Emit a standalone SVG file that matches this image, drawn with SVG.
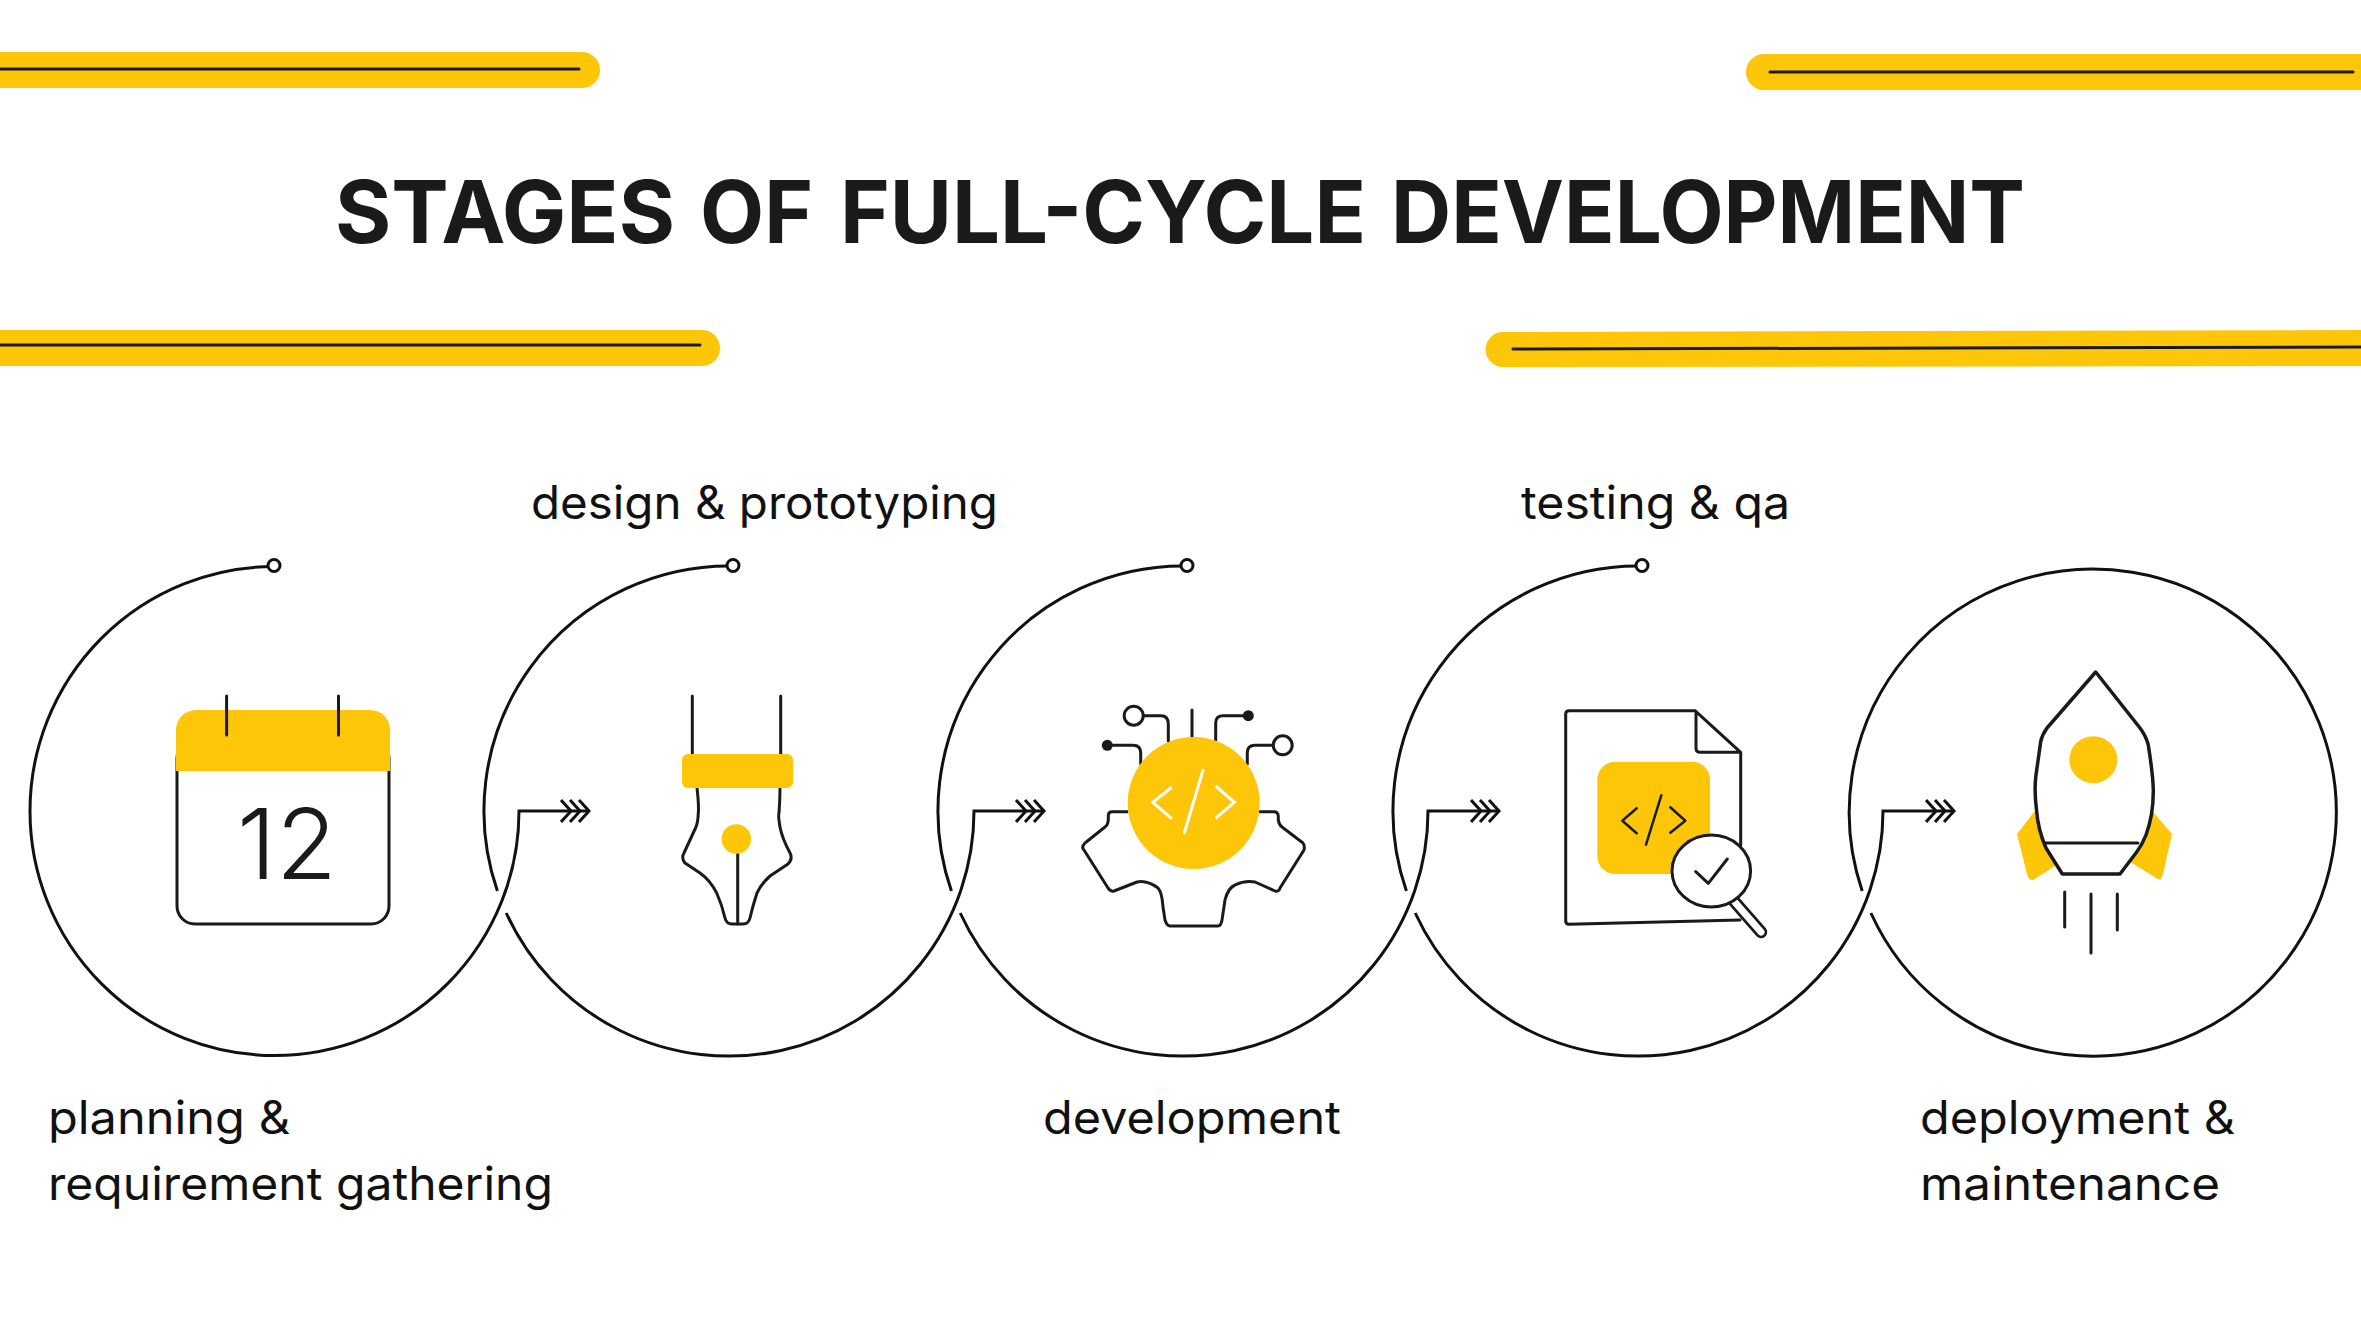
<svg xmlns="http://www.w3.org/2000/svg" width="2361" height="1317" viewBox="0 0 2361 1317">
<style>
text{font-family:"Inter","Liberation Sans",sans-serif;fill:#111}
.title{font-size:87px;font-weight:700;fill:#1a1a1a}
.lab{font-size:46px;font-weight:400}
.y{fill:#fec608;stroke:none}
.k{fill:none;stroke:#1a1a1a;stroke-width:3;stroke-linecap:round;stroke-linejoin:round}
.kb{fill:none;stroke:#1a1a1a;stroke-width:3;stroke-linejoin:round}
.arc{fill:none;stroke:#111;stroke-width:3}
.bar{fill:none;stroke:#1a1a1a;stroke-width:3;stroke-linecap:round}
.dot{fill:#fff;stroke:#111;stroke-width:3}
</style>
<defs>
<marker id="chev" markerUnits="userSpaceOnUse" markerWidth="32" markerHeight="28" refX="29" refY="14" orient="auto" viewBox="0 0 32 28">
<path d="M1 3L11 14L1 25M10 3L20 14L10 25M19 3L29 14L19 25" fill="none" stroke="#111" stroke-width="3"/>
</marker>
</defs>
<rect width="2361" height="1317" fill="#fff"/>
<g id="decor">
<rect class="y" x="-30" y="52" width="630" height="36" rx="18"/>
<path class="bar" d="M-5 69H579"/>
<rect class="y" x="1746" y="54" width="640" height="36" rx="18"/>
<path class="bar" d="M1770 72H2353"/>
<rect class="y" x="-30" y="330" width="750" height="36" rx="18"/>
<path class="bar" d="M-5 345H700"/>
<path class="y" d="M1503 332L2361 330V366L1503 367A17.5 17.5 0 0 1 1503 332Z"/>
<path class="bar" d="M1513 349L2366 347"/>
</g>
<text id="title" class="title" y="243"><tspan x="335" textLength="340" lengthAdjust="spacingAndGlyphs">STAGES</tspan> <tspan x="700" textLength="113" lengthAdjust="spacingAndGlyphs">OF</tspan> <tspan x="840" textLength="526" lengthAdjust="spacingAndGlyphs">FULL-CYCLE</tspan> <tspan x="1391" textLength="634" lengthAdjust="spacingAndGlyphs">DEVELOPMENT</tspan></text>
<g id="connectors">
<path class="arc" marker-end="url(#chev)" d="M274.5 566.5A244.5 244.5 0 1 0 519 811H589"/>
<path class="arc" d="M733 566A245 245 0 0 0 497.4 891"/>
<path class="arc" marker-end="url(#chev)" d="M506.2 913A245 245 0 0 0 974 811H1044"/>
<path class="arc" d="M1187 566A245 245 0 0 0 951.4 891"/>
<path class="arc" marker-end="url(#chev)" d="M960.2 913A245 245 0 0 0 1428 811H1499"/>
<path class="arc" d="M1642 566A245 245 0 0 0 1406.4 891"/>
<path class="arc" marker-end="url(#chev)" d="M1415.2 913A245 245 0 0 0 1883 811H1954"/>
<path class="arc" d="M1870.9 913A243.5 243.5 0 1 0 1862.2 891"/>
<circle class="dot" cx="274" cy="565.5" r="6"/>
<circle class="dot" cx="733" cy="565.5" r="6"/>
<circle class="dot" cx="1187" cy="565.5" r="6"/>
<circle class="dot" cx="1642" cy="565.5" r="6"/>
</g>
<g id="node-planning">
<rect class="kb" x="177" y="740" width="212" height="184" rx="18"/>
<path class="y" d="M176 771V730A20 20 0 0 1 196 710H370A20 20 0 0 1 390 730V771Z"/>
<path class="k" d="M226.6 696V735M338.5 696V735"/>
<text x="237" y="879" font-size="98" style="font-weight:300;fill:#1a1a1a" textLength="100" lengthAdjust="spacingAndGlyphs">12</text>
<text class="lab" x="48" y="1134" textLength="242" lengthAdjust="spacingAndGlyphs">planning &amp;</text>
<text class="lab" x="48" y="1200" textLength="505" lengthAdjust="spacingAndGlyphs">requirement gathering</text>
</g>
<g id="node-design">
<path class="k" d="M692.3 696V754M780.7 696V754"/>
<path class="kb" d="M697 788Q699 805 698.3 813Q698 822 696 827L684 853Q681 858 685 863L700 873Q710 880 716.7 893Q722 905 725 918Q726.5 924 732 924H743Q748.5 924 750 918Q753 905 757 893Q762 883 770 876L788 864Q793 859 790 853Q782 838 780 827Q778 815 779 813Q780 800 780 788"/>
<path class="k" d="M737.7 853V924"/>
<rect class="y" x="682" y="754" width="111" height="34" rx="6"/>
<circle class="y" cx="736.3" cy="839" r="14.7"/>
<text class="lab" x="531" y="519" textLength="467" lengthAdjust="spacingAndGlyphs">design &amp; prototyping</text>
</g>
<g id="node-development">
<path class="kb" d="M1128.3 811.7H1112Q1108.3 811.7 1108.3 816V820Q1108 825 1105 827L1085 843Q1081 847 1084 850L1108 888Q1111 892 1114 891L1137 882Q1147 880 1158 888Q1162 892 1163 907L1165 920Q1167 926 1170 926H1218Q1221 926 1222 920L1225 900Q1228 888 1235 885Q1245 880 1255 882L1275 891Q1279 892 1280 888L1304 850Q1305 846 1303 843L1282 827Q1279 825 1278.3 820V816Q1278 811.7 1274 811.7H1259"/>
<path class="k" d="M1192 710V737M1144 715.7H1161Q1168.3 715.7 1168.3 724V741M1107.3 745.3H1133Q1140.7 745.3 1140.7 753V764M1248.3 715.7H1223Q1215.7 715.7 1215.7 723V740M1272 745.3H1255Q1247.3 745.3 1247.3 753V764"/>
<circle class="k" cx="1133.7" cy="715.7" r="9.5"/>
<circle class="k" cx="1282.7" cy="745.3" r="9.5"/>
<circle cx="1107.3" cy="745.3" r="5.5" fill="#1a1a1a"/>
<circle cx="1248.3" cy="715.7" r="5.5" fill="#1a1a1a"/>
<circle class="y" cx="1193.7" cy="803" r="66"/>
<path fill="none" stroke="#fff" stroke-width="3" d="M1171.7 787.3L1152.7 802.3L1171.7 818.7M1203.3 769.3L1184 834M1215.7 786L1234.3 802.3L1215.7 818"/>
<text class="lab" x="1043" y="1134" textLength="298" lengthAdjust="spacingAndGlyphs">development</text>
</g>
<g id="node-testing">
<path class="k" d="M1569 710.7H1695L1740.7 752.3V845M1740 920L1569 924.3Q1565.7 924.3 1565.7 921V714Q1565.7 710.7 1569 710.7M1696 712V748Q1696 752.3 1700 752.3H1740.7"/>
<rect class="y" x="1597.3" y="761.7" width="112.7" height="112.3" rx="18"/>
<path class="k" stroke-linecap="butt" style="stroke-width:2.5" d="M1636.7 808.3L1622.3 820.7L1636.7 833.3M1661.3 795.3L1646 844.7M1670.3 807.3L1685.3 820.7L1670.3 832.7"/>
<path fill="none" stroke="#1a1a1a" stroke-width="12.5" stroke-linecap="round" d="M1733 900L1761 932"/>
<path fill="none" stroke="#fff" stroke-width="7" stroke-linecap="round" d="M1733 900L1761 932"/>
<ellipse cx="1711.3" cy="871" rx="39.3" ry="36" fill="#fff" stroke="#1a1a1a" stroke-width="3"/>
<path class="k" d="M1695.7 871.7L1708.3 883.3L1727.3 859"/>
<text class="lab" x="1521" y="519" textLength="269" lengthAdjust="spacingAndGlyphs">testing &amp; qa</text>
</g>
<g id="node-deployment">
<path class="y" d="M2034 812L2017 834L2027 874Q2029 881 2033 880L2055 866L2055 825ZM2153 812L2172 834L2163 874Q2161 881 2158 879L2130 862L2140 825Z"/>
<path fill="#fff" stroke="#1a1a1a" stroke-width="3.5" stroke-linejoin="round" d="M2095.7 672L2140 728Q2146 736 2148.3 745Q2153 775 2153.3 790Q2153.5 815 2146 835Q2142 845 2136.7 852L2120 874H2062.3L2046 848Q2038 830 2036.5 810Q2034 790 2036 775L2040.7 741.7Q2042 735 2047 728Z"/>
<path class="k" d="M2045 843H2138"/>
<ellipse class="y" cx="2093.3" cy="759.7" rx="24" ry="23.5"/>
<path class="k" stroke-linecap="butt" style="stroke-width:3" d="M2064.7 892V927M2091 894V953M2117.3 894V930"/>
<text class="lab" x="1920" y="1134" textLength="315" lengthAdjust="spacingAndGlyphs">deployment &amp;</text>
<text class="lab" x="1920" y="1200" textLength="300" lengthAdjust="spacingAndGlyphs">maintenance</text>
</g>
</svg>
